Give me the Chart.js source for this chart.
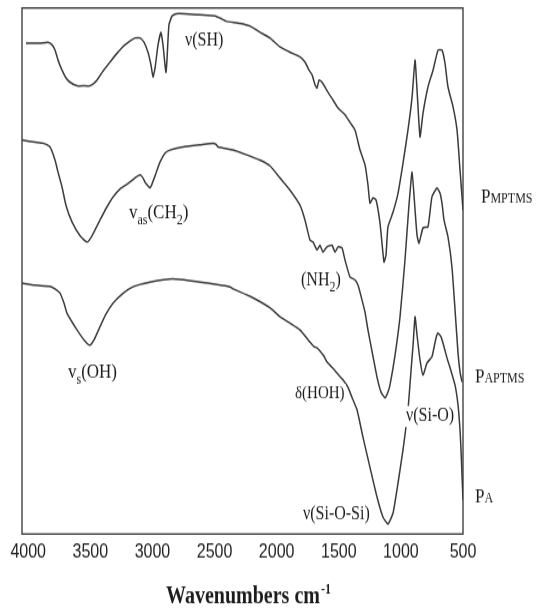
<!DOCTYPE html>
<html>
<head>
<meta charset="utf-8">
<script src="https://cdn.jsdelivr.net/npm/chart.js@4"></script>
<style>
  html, body { margin: 0; padding: 0; background: #fff; width: 537px; height: 608px; }
  #page { position: relative; width: 537px; height: 608px; }
  /* the drawing is laid out a little shorter and stretched to full height */
  #wrap { position: absolute; left: 0; top: 0; width: 537px; height: 507px; transform: scale(1, 1.1992); transform-origin: 0 0; }
  canvas { display: block; }
</style>
</head>
<body>
<div id="page"><div id="wrap"><canvas id="ftir" width="537" height="507"></canvas></div></div>
<script>
// x-axis tick labels (cm-1)
const tickValues = [4000, 3500, 3000, 2500, 2000, 1500, 1000, 500];

// P_MPTMS spectrum: wavenumber (cm-1) and transmittance (a.u.)
const mptmsWn = [4018,3905,3841,3808,3784,3760,3728,3696,3664,3607,
  3551,3503,3470,3446,3398,3342,3285,3221,3140,3100,
  3068,3036,3012,2995,2979,2955,2931,2915,2899,2891,
  2883,2867,2842,2810,2738,2617,2496,2440,2408,2295,
  2215,2134,2054,1973,1893,1812,1772,1740,1715,1691,
  1675,1659,1635,1587,1546,1506,1450,1410,1369,1329,
  1289,1265,1249,1224,1200,1168,1136,1120,1104,1063,
  1023,983,943,910,886,870,846,822,782,741,
  701,669,645,621,580,548,524,500];
const mptmsT = [93.3,93.3,93.5,93.0,92.0,90.1,88.2,86.7,85.9,85.2,
  85.2,85.2,85.7,86.3,88.0,89.7,91.4,93.0,94.3,94.3,
  93.5,91.6,89.2,86.9,88.6,93.0,95.4,93.0,89.2,87.8,
  90.1,96.8,98.5,98.9,98.9,98.7,98.5,97.9,97.5,97.1,
  96.6,95.4,94.3,92.6,91.6,90.7,89.7,88.2,87.3,85.4,
  84.8,86.3,85.9,84.0,82.5,81.0,79.7,78.3,76.8,73.0,
  70.2,66.4,62.9,63.9,63.5,59.1,51.7,53.0,58.4,61.2,
  64.8,70.5,76.8,83.1,90.1,84.4,75.5,80.0,85.0,88.2,
  92.0,92.0,89.5,85.0,81.2,76.8,69.2,61.6];

// P_APTMS spectrum
const aptmsWn = [4050,3945,3881,3825,3784,3760,3728,3696,3647,3583,
  3527,3486,3422,3366,3317,3261,3205,3140,3100,3076,
  3060,3036,3020,3004,2979,2939,2899,2859,2754,2617,
  2512,2488,2472,2351,2255,2134,2054,1973,1893,1812,
  1772,1732,1707,1675,1651,1627,1595,1554,1530,1506,
  1474,1450,1410,1369,1345,1313,1289,1265,1224,1192,
  1160,1128,1104,1088,1047,1007,967,935,910,886,
  870,854,822,782,750,709,685,669,653,621,
  589,564,540,524,508];
const aptmsT = [74.9,74.5,74.3,73.6,71.1,68.8,66.0,62.5,59.3,56.7,
  55.5,56.7,59.7,62.2,64.1,65.6,66.5,67.7,68.3,67.7,
  66.9,66.2,65.8,66.5,68.1,70.7,72.4,73.0,73.6,74.0,
  74.3,74.1,73.6,73.0,72.2,71.1,70.0,67.7,65.4,62.5,
  59.7,55.9,55.5,54.0,54.9,53.6,54.6,54.9,53.6,54.6,
  54.4,52.1,48.9,48.3,47.3,44.5,42.2,38.8,33.7,29.8,
  27.0,25.9,27.0,28.3,34.0,41.3,52.1,62.5,68.8,61.6,
  56.8,55.3,58.2,58.4,64.1,65.8,64.8,62.9,59.7,56.5,
  50.8,42.6,34.4,30.8,28.9];

// P_A spectrum
const paWn = [4050,3945,3825,3784,3744,3712,3688,3647,3607,3551,
  3503,3470,3422,3374,3317,3245,3156,3020,2834,2617,
  2496,2376,2351,2215,2054,1973,1893,1812,1732,1699,
  1675,1651,1619,1595,1554,1514,1466,1426,1394,1353,
  1305,1249,1192,1144,1104,1063,1023,983,943,918,
  902,886,870,846,822,790,750,717,701,677,
  661,629,605,564,540,524,516,508,500];
const paT = [47.7,47.3,47.1,46.6,45.8,43.9,42.0,40.3,38.8,36.9,
  35.9,36.9,39.4,41.8,43.9,45.6,47.0,47.9,48.5,47.9,
  47.5,47.0,46.6,45.2,43.0,41.3,40.1,38.8,36.5,35.6,
  35.4,34.8,33.8,32.7,31.7,30.6,29.3,27.9,26.0,23.6,
  18.4,12.7,7.0,3.2,1.9,4.0,9.7,16.0,23.6,31.2,
  35.9,41.3,37.8,33.1,30.2,32.5,33.7,37.3,38.2,37.5,
  36.3,33.5,31.7,28.3,24.5,19.8,16.0,11.2,6.5];

// band assignments: text parts ([string] or [string,'sub']), anchor (wavenumber, transmittance) of the text's left baseline
const bandLabels = [
  { parts: [['ν'], ['(SH)']], wn: 2738, t: 92.8, size: 16 },
  { parts: [['v'], ['as', 'sub'], ['(CH'], ['2', 'sub'], [')']], wn: 3189, t: 60.1, size: 17 },
  { parts: [['(NH'], ['2', 'sub'], [')']], wn: 1804, t: 47.3, size: 16 },
  { parts: [['v'], ['s', 'sub'], ['(OH)']], wn: 3680, t: 29.8, size: 17 },
  { parts: [['δ(HOH)']], wn: 1852, t: 25.9, size: 15 },
  { parts: [['ν(Si-O)']], wn: 959, t: 21.5, size: 16 },
  { parts: [['ν(Si-O-Si)']], wn: 1788, t: 2.7, size: 16 }
];

// sample names right of the frame: offset from the frame (px) and transmittance of the baseline
const sampleNames = [
  { main: 'P', small: 'MPTMS', dx: 18, t: 62.9 },
  { main: 'P', small: 'APTMS', dx: 12, t: 28.9 },
  { main: 'P', small: 'A', dx: 12, t: 6.1 }
];

const SERIF = '"Liberation Serif", "Times New Roman", Times, serif';
const SANS = '"Liberation Sans", Arial, Helvetica, sans-serif';
const INK = '#1c1c1c';
const LINE = '#3a3a3a';

function series(wn, t) {
  return wn.map((w, i) => ({ x: w, y: t[i] }));
}

function drawParts(ctx, parts, x, y, size) {
  const subSize = Math.round(size * 0.72);
  const widths = parts.map(p => {
    ctx.font = (p[1] === 'sub' ? subSize : size) + 'px ' + SERIF;
    return ctx.measureText(p[0]).width;
  });
  const total = widths.reduce((a, b) => a + b, 0);
  ctx.fillStyle = '#fff';
  ctx.fillRect(x - 1, y - size * 0.78, total + 2, size * 1.1);
  ctx.fillStyle = INK;
  let cx = x;
  parts.forEach((p, i) => {
    const sub = p[1] === 'sub';
    ctx.font = (sub ? subSize : size) + 'px ' + SERIF;
    ctx.fillText(p[0], cx, sub ? y + size * 0.33 : y);
    cx += widths[i];
  });
}

const textPlugin = {
  id: 'ftirText',
  afterDatasetsDraw(chart) {
    const { ctx, chartArea, scales } = chart;
    const xs = scales.x, ys = scales.y;
    ctx.save();
    // frame round the plot area
    ctx.strokeStyle = '#333';
    ctx.lineWidth = 1.3;
    ctx.strokeRect(chartArea.left, chartArea.top, chartArea.right - chartArea.left, chartArea.bottom - chartArea.top);

    ctx.textBaseline = 'alphabetic';
    ctx.textAlign = 'left';
    bandLabels.forEach(l => {
      drawParts(ctx, l.parts, xs.getPixelForValue(l.wn), ys.getPixelForValue(l.t), l.size);
    });

    ctx.fillStyle = INK;
    sampleNames.forEach(s => {
      const x = chartArea.right + s.dx;
      const y = ys.getPixelForValue(s.t);
      ctx.font = '17px ' + SERIF;
      ctx.fillText(s.main, x, y);
      const w = ctx.measureText(s.main).width;
      ctx.font = '12px ' + SERIF;
      ctx.fillText(s.small, x + w, y);
    });

    // axis title
    const mainTitle = 'Wavenumbers cm';
    ctx.font = 'bold 20px ' + SERIF;
    const w1 = ctx.measureText(mainTitle).width;
    ctx.font = 'bold 12px ' + SERIF;
    const w2 = ctx.measureText('-1').width;
    const tx = 248 - (w1 + w2) / 2;
    const ty = 502.8;
    ctx.font = 'bold 20px ' + SERIF;
    ctx.fillText(mainTitle, tx, ty);
    ctx.font = 'bold 12px ' + SERIF;
    ctx.fillText('-1', tx + w1 + 1, ty - 7.5);
    ctx.restore();
  }
};

const lineStyle = {
  borderColor: LINE,
  borderWidth: 1.5,
  pointRadius: 0,
  tension: 0.15,
  fill: false
};

new Chart(document.getElementById('ftir'), {
  type: 'line',
  data: {
    datasets: [
      Object.assign({ label: 'PMPTMS', data: series(mptmsWn, mptmsT) }, lineStyle),
      Object.assign({ label: 'PAPTMS', data: series(aptmsWn, aptmsT) }, lineStyle),
      Object.assign({ label: 'PA', data: series(paWn, paT) }, lineStyle)
    ]
  },
  options: {
    responsive: false,
    animation: false,
    events: [],
    layout: { padding: { left: 22, right: 74, top: 6.67, bottom: 0 } },
    plugins: { legend: { display: false }, tooltip: { enabled: false } },
    scales: {
      x: {
        type: 'linear',
        reverse: true,
        min: 500,
        max: 4050,
        afterBuildTicks: s => { s.ticks = tickValues.map(v => ({ value: v })); },
        afterFit: s => { s.height = 61.7; },
        grid: { display: false, drawTicks: false },
        border: { display: false },
        ticks: {
          autoSkip: false,
          maxRotation: 0,
          padding: 6,
          color: '#222',
          font: { family: SANS, size: 16 },
          callback: v => String(v)
        }
      },
      y: {
        display: false,
        min: 0,
        max: 100
      }
    }
  },
  plugins: [textPlugin]
});
</script>
</body>
</html>
